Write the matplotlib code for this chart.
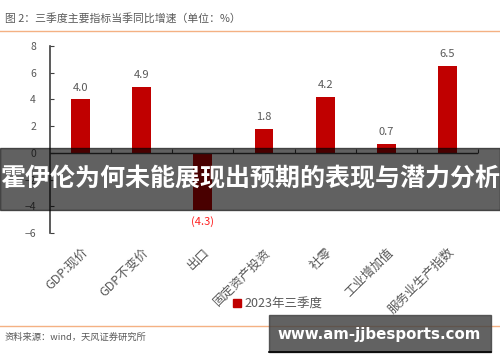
import matplotlib
matplotlib.use("Agg")
import matplotlib.pyplot as plt
from matplotlib.patches import Rectangle
from matplotlib.lines import Line2D

plt.rcParams['font.family'] = ['Noto Sans CJK SC', 'DejaVu Sans']

categories = ["GDP:现价", "GDP不变价", "出口", "固定资产投资", "社零", "工业增加值", "服务业生产指数"]
values = [4.0, 4.9, -4.3, 1.8, 4.2, 0.7, 6.5]
value_labels = ["4.0", "4.9", "(4.3)", "1.8", "4.2", "0.7", "6.5"]
yticks = [8, 6, 4, 2, 0, -2, -4, -6]
series_name = "2023年三季度"
title = "图 2：三季度主要指标当季同比增速（单位：%）"
source = "资料来源：wind，天风证券研究所"
banner = "霍伊伦为何未能展现出预期的表现与潜力分析"
site = "www.am-jjbesports.com"

fig = plt.figure(figsize=(5.0, 3.62), dpi=100)
ax = fig.add_axes([0.1, 0.356, 0.856, 0.517])

red = "#C00000"
gray_txt = "#595959"
x = list(range(len(categories)))
ax.bar(x, values, width=0.31, color=red, zorder=2)
ax.set_xlim(-0.5, len(categories) - 0.5)
ax.set_ylim(-6, 8)
ax.set_yticks(yticks)
ax.tick_params(axis='y', direction='in', length=3, labelsize=7.5, colors=gray_txt, pad=10)
ax.tick_params(axis='y', color='#404040')
for s in ['top', 'right', 'bottom']:
    ax.spines[s].set_visible(False)
ax.spines['left'].set_color('#404040')
ax.spines['left'].set_linewidth(1.2)

ax.set_xticks(x)
ax.set_xticklabels(categories, rotation=45, ha='right', va='top', rotation_mode='anchor',
                   fontsize=9, color=gray_txt)
ax.tick_params(axis='x', length=0, pad=9)

# zero axis with boundary ticks
ax.axhline(0, color='#404040', lw=1.0, zorder=3)
sec = ax.secondary_xaxis(6 / 14)
sec.set_xticks([i + 0.5 for i in x])
sec.set_xticklabels([])
sec.tick_params(direction='in', length=3, color='#404040')
sec.spines['bottom'].set_visible(False)

for xi, v, lab in zip(x, values, value_labels):
    if v >= 0:
        ax.annotate(lab, (xi, v), xytext=(0, 5), textcoords='offset points', ha='center',
                    va='bottom', fontsize=8, color=gray_txt)
    else:
        ax.annotate(lab, (xi, v), xytext=(0, -4), textcoords='offset points', ha='center',
                    va='top', fontsize=8, color='#FF2020')

# legend
leg = fig.legend(handles=[Rectangle((0, 0), 1, 1, color=red)], labels=[series_name],
                 loc='center', bbox_to_anchor=(0.556, 1 - 304 / 362), frameon=False, fontsize=9,
                 handlelength=0.6, handleheight=0.6, handletextpad=0.3, labelcolor=gray_txt)

# header and footer
fig.text(0.01, 0.95, title, fontsize=7.8, color=gray_txt, va='center', ha='left')
fig.add_artist(Line2D([0, 1], [1 - 31 / 362, 1 - 31 / 362], color='#F4B183', lw=1.0))
fig.add_artist(Line2D([0, 1], [1 - 326 / 362, 1 - 326 / 362], color='#F4B183', lw=1.0))
fig.text(0.01, 1 - 337 / 362, source, fontsize=6.7, color=gray_txt, va='center', ha='left')

# overlay banner
fig.add_artist(Rectangle((0, 1 - 210 / 362), 1, 62 / 362, transform=fig.transFigure,
                         color='black', alpha=0.62, zorder=10))
fig.text(0.5, 1 - 179 / 362, banner, fontsize=18, color='white', fontweight='bold',
         ha='center', va='center', zorder=11)

# site banner
fig.add_artist(Rectangle((269 / 500, 1 - 352 / 362), 222 / 500, 37 / 362, transform=fig.transFigure,
                         color='#404040', alpha=0.82, zorder=10))
fig.add_artist(Line2D([269 / 500, 491 / 500], [1 - 352 / 362, 1 - 352 / 362], color='black',
                      lw=1.2, zorder=11))
fig.text(379 / 500, 1 - 335 / 362, site, fontsize=10.8, color='white', fontweight='bold',
         ha='center', va='center', zorder=11, family=['DejaVu Sans'])

fig.savefig("out.png", dpi=100)
